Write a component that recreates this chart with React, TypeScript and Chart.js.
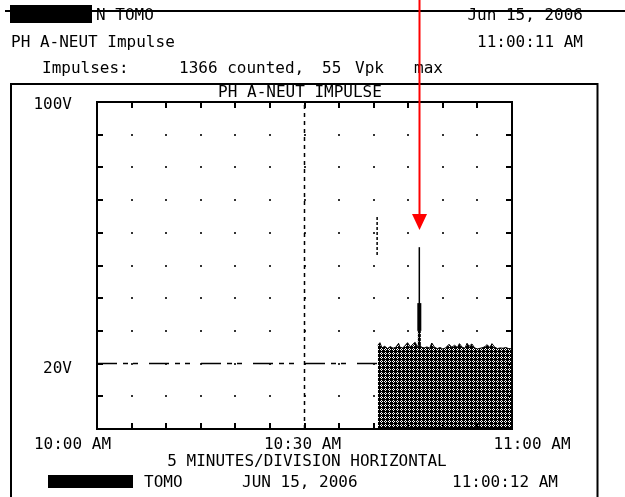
import React, { useEffect, useRef } from "react";
import { Chart, registerables } from "chart.js";

Chart.register(...registerables);

// ---------- data ----------
const timeTicks = [0, 5, 10, 15, 20, 25, 30, 35, 40, 45, 50, 55, 60]; // minutes after 10:00 AM
const voltTicks = [0, 10, 20, 30, 40, 50, 60, 70, 80, 90, 100];
const timeLabels = ["10:00 AM", "10:30 AM", "11:00 AM"];
const timeLabelAt = [0, 30, 60];
const voltLabels = ["100V", "20V"];
const voltLabelAt = [100, 20];

const noiseTimes = [
  40.6, 40.9, 41.2, 41.6, 42.0, 42.4, 42.8, 43.2, 43.6, 43.8, 44.2, 44.6, 44.9, 45.3,
  45.7, 46.0, 46.3, 46.6, 46.9, 47.3, 47.7, 48.1, 48.4, 48.8, 49.2, 49.6, 50.0, 50.4,
  50.9, 51.3, 51.7, 52.1, 52.4, 52.8, 53.2, 53.5, 53.8, 54.2, 54.6, 55.0, 55.4, 55.8,
  56.1, 56.4, 56.8, 57.1, 57.5, 57.9, 58.3, 58.7, 59.1, 59.5, 60.0,
];
const noiseVolts = [
  25.6, 26.4, 24.8, 25.3, 24.6, 25.2, 24.7, 25.0, 26.2, 25.0, 24.8, 25.6, 26.4, 25.1,
  26.0, 26.5, 25.2, 26.0, 25.0, 24.8, 25.1, 24.7, 26.3, 25.0, 24.6, 24.9, 24.5, 24.8,
  25.9, 25.0, 25.6, 24.9, 26.1, 25.0, 24.7, 26.2, 25.3, 26.0, 24.8, 24.5, 24.7, 24.9,
  25.2, 25.8, 24.9, 26.1, 25.0, 24.6, 24.8, 24.7, 24.9, 24.6, 24.5,
];

const thresholdVolts = 20;
const thresholdEnd = 40.6;
const cursorTime = 30;
const spikeTime = 46.6;
const spikeBase = 25;
const spikePeak = 55.6;
const spikeDenseLow = 30;
const spikeDenseHigh = 38.5;
const markerTime = 40.5;
const markerLow = 53.2;
const markerHigh = 64.8;

const headerName = "N TOMO";
const headerDate = "Jun 15, 2006";
const headerTitle = "PH A-NEUT Impulse";
const headerTime = "11:00:11 AM";
const countLabel = "Impulses:";
const countText = "1366 counted,";
const peakValue = "55";
const peakUnit = "Vpk";
const peakWord = "max";
const chartTitle = "PH A-NEUT IMPULSE";
const xAxisTitle = "5 MINUTES/DIVISION HORIZONTAL";
const footerName = "TOMO";
const footerDate = "JUN 15, 2006";
const footerTime = "11:00:12 AM";

const FONT = '16px "DejaVu Sans Mono", monospace';

function makePattern(): CanvasPattern | string {
  const c = document.createElement("canvas");
  c.width = 4;
  c.height = 4;
  const g = c.getContext("2d");
  if (!g) return "#333";
  g.fillStyle = "#000";
  g.fillRect(0, 0, 4, 4);
  g.fillStyle = "#fff";
  [[1, 0], [0, 1], [2, 1], [1, 2]].forEach(([px, py]) => g.fillRect(px, py, 1, 1));
  const p = g.createPattern(c, "repeat");
  return p || "#333";
}

const decor = {
  id: "scopeDecor",
  beforeDatasetsDraw(chart: any) {
    const { ctx, scales } = chart;
    const x = scales.x;
    const y = scales.y;
    ctx.save();
    ctx.fillStyle = "#333";
    timeTicks.slice(1, -1).forEach((t) => {
      voltTicks.slice(1, -1).forEach((v) => {
        const px = Math.round(x.getPixelForValue(t));
        const py = Math.round(y.getPixelForValue(v));
        ctx.fillRect(px - 1, py - 1, 2, 2);
      });
    });
    ctx.restore();
  },
  afterDatasetsDraw(chart: any) {
    const { ctx, chartArea, scales } = chart;
    const x = scales.x;
    const y = scales.y;
    const { left, right, top, bottom } = chartArea;
    ctx.save();
    ctx.strokeStyle = "#000";
    ctx.lineWidth = 2;
    // plot border
    ctx.strokeRect(left, top, right - left, bottom - top);
    // inward tick marks
    ctx.beginPath();
    timeTicks.slice(1, -1).forEach((t) => {
      const px = Math.round(x.getPixelForValue(t));
      ctx.moveTo(px, top);
      ctx.lineTo(px, top + 6);
      ctx.moveTo(px, bottom);
      ctx.lineTo(px, bottom - 6);
    });
    voltTicks.slice(1, -1).forEach((v) => {
      const py = Math.round(y.getPixelForValue(v));
      ctx.moveTo(left, py);
      ctx.lineTo(left + 6, py);
      ctx.moveTo(right, py);
      ctx.lineTo(right - 6, py);
    });
    ctx.stroke();

    // outer frame
    ctx.beginPath();
    ctx.moveTo(11, 497);
    ctx.lineTo(11, 84);
    ctx.lineTo(597.5, 84);
    ctx.lineTo(597.5, 497);
    ctx.stroke();
    // top rule
    ctx.beginPath();
    ctx.moveTo(5, 11);
    ctx.lineTo(625, 11);
    ctx.stroke();

    // texts
    ctx.font = FONT;
    ctx.fillStyle = "#000";
    ctx.textBaseline = "middle";
    const t = (s: string, px: number, py: number, align: CanvasTextAlign = "left") => {
      ctx.textAlign = align;
      ctx.fillText(s, px, py);
    };
    // redaction boxes
    ctx.fillRect(10, 5, 82, 18);
    ctx.fillRect(48, 475, 85, 13);

    t(headerName, 96, 16);
    t(headerDate, 583, 16, "right");
    t(headerTitle, 11, 43);
    t(headerTime, 583, 43, "right");
    t(countLabel, 42, 69);
    t(countText, 179, 69);
    t(peakValue, 322, 69);
    t(peakUnit, 355, 69);
    t(peakWord, 414, 69);
    t(chartTitle, 300, 93, "center");

    voltLabels.forEach((s, i) => {
      const py = y.getPixelForValue(voltLabelAt[i]);
      t(s, 72, py + (voltLabelAt[i] === 100 ? 3 : 5), "right");
    });
    const xOffsets = [-24.5, -2, 20];
    timeLabels.forEach((s, i) => {
      const px = x.getPixelForValue(timeLabelAt[i]);
      t(s, px + xOffsets[i], 445, "center");
    });
    t(xAxisTitle, 307, 462, "center");
    t(footerName, 144, 483);
    t(footerDate, 242, 483);
    t(footerTime, 452, 483);

    // red annotation arrow
    const ax = Math.round(x.getPixelForValue(spikeTime)) + 0.5;
    ctx.strokeStyle = "#ff0000";
    ctx.fillStyle = "#ff0000";
    ctx.lineWidth = 2;
    ctx.beginPath();
    ctx.moveTo(ax, 0);
    ctx.lineTo(ax, 216);
    ctx.stroke();
    ctx.beginPath();
    ctx.moveTo(ax - 7.5, 214);
    ctx.lineTo(ax + 7.5, 214);
    ctx.lineTo(ax, 230);
    ctx.closePath();
    ctx.fill();
    ctx.restore();
  },
};

export default function App() {
  const ref = useRef<HTMLCanvasElement | null>(null);
  useEffect(() => {
    if (!ref.current) return;
    const pattern = makePattern();
    const line = (pts: { x: number; y: number }[], extra: any) => ({
      data: pts,
      pointRadius: 0,
      borderColor: "#000",
      borderWidth: 1.5,
      fill: false,
      tension: 0,
      ...extra,
    });
    const chart = new Chart(ref.current, {
      type: "line",
      data: {
        datasets: [
          line(
            noiseTimes.map((tm, i) => ({ x: tm, y: noiseVolts[i] })),
            { fill: "origin", backgroundColor: pattern, borderWidth: 1 }
          ),
          line(
            [
              { x: 0, y: thresholdVolts },
              { x: thresholdEnd, y: thresholdVolts },
            ],
            { borderDash: [20, 6, 5, 5, 5, 11] }
          ),
          line(
            [
              { x: cursorTime, y: 0 },
              { x: cursorTime, y: 100 },
            ],
            { borderDash: [4, 4] }
          ),
          line(
            [
              { x: spikeTime, y: spikeBase },
              { x: spikeTime, y: spikePeak },
            ],
            { borderWidth: 1.5 }
          ),
          line(
            [
              { x: spikeTime, y: spikeBase },
              { x: spikeTime, y: spikeDenseLow },
            ],
            { borderWidth: 3, borderColor: pattern }
          ),
          line(
            [
              { x: spikeTime, y: spikeDenseLow },
              { x: spikeTime, y: spikeDenseHigh },
            ],
            { borderWidth: 4 }
          ),
          line(
            [
              { x: markerTime, y: markerLow },
              { x: markerTime, y: markerHigh },
            ],
            { borderDash: [3, 2] }
          ),
        ],
      },
      options: {
        responsive: false,
        maintainAspectRatio: false,
        animation: false,
        devicePixelRatio: 1,
        layout: { padding: { left: 97, top: 102, right: 113, bottom: 68 } },
        plugins: { legend: { display: false }, tooltip: { enabled: false }, title: { display: false } },
        scales: {
          x: { type: "linear", min: 0, max: 60, display: false, ticks: { stepSize: 5 } },
          y: { type: "linear", min: 0, max: 100, display: false, ticks: { stepSize: 10 } },
        },
      },
      plugins: [decor],
    });
    return () => chart.destroy();
  }, []);
  return (
    <div style={{ position: "absolute", left: 0, top: 0, width: 625, height: 497, background: "#fff" }}>
      <canvas ref={ref} width={625} height={497} style={{ display: "block", width: 625, height: 497 }} />
    </div>
  );
}
